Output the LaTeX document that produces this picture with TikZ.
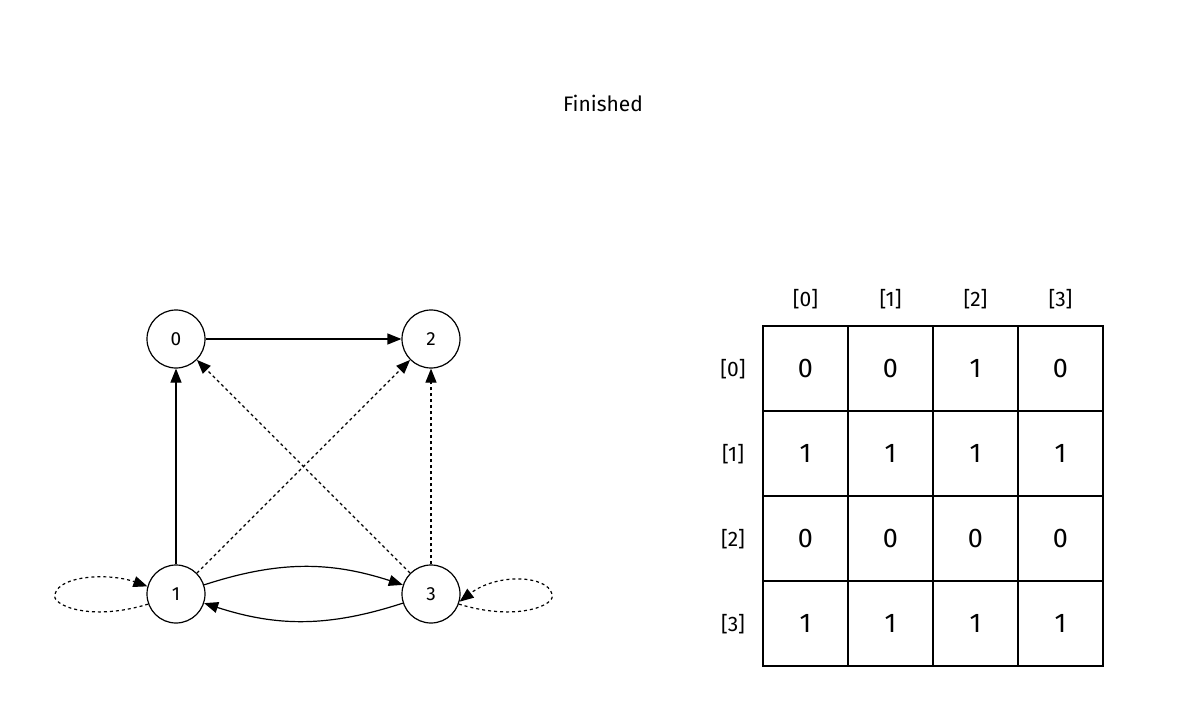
\documentclass[tikz,border=0pt]{standalone}
\usepackage{fontspec}
\setmainfont{Fira Sans}
\usetikzlibrary{arrows.meta}
\begin{document}
\begin{tikzpicture}[x=1pt,y=-1pt,
  vert/.style={circle,draw,line width=1.2pt,minimum size=58pt,inner sep=0pt,font=\fontsize{19}{19}\selectfont},
  edge/.style={line width=1.2pt,-{Triangle[length=14pt,width=11pt]}},
  cell/.style={draw,line width=2pt,minimum size=85pt,inner sep=0pt,font=\fontsize{27}{27}\selectfont},
  lab/.style={font=\fontsize{21}{21}\selectfont}]
\useasboundingbox (0,0) rectangle (1203,714);
\node[font=\fontsize{21}{21}\selectfont] (title) at (603,103) {Finished};
\node[vert] (v0) at (176,339) {0};
\node[vert] (v2) at (431,339) {2};
\node[vert] (v1) at (176,594) {1};
\node[vert] (v3) at (431,594) {3};
\draw[edge] (v0) -- (v2);
\draw[edge] (v1) -- (v0);
\draw[edge] (v1) to[bend left=18] (v3);
\draw[edge] (v3) to[bend left=18] (v1);
\draw[edge,dashed] (v1) -- (v2);
\draw[edge,dashed] (v3) -- (v0);
\draw[edge,dashed] (v3) -- (v2);
\draw[edge,dashed] (v1.200) .. controls (90,622) and (50,605) .. (55,594) .. controls (60,575) and (110,573) .. (v1.165);
\draw[edge,dashed] (v3.-20) .. controls (517,622) and (557,605) .. (552,594) .. controls (547,575) and (497,573) .. (v3.-15);
\foreach \r/\row in {0/{0,0,1,0},1/{1,1,1,1},2/{0,0,0,0},3/{1,1,1,1}}{
  \node[lab] (r\r) at (733,{369+85*\r}) {[\r]};
  \node[lab] (c\r) at ({805.5+85*\r},299) {[\r]};
  \foreach \v [count=\c from 0] in \row
    \node[cell] (m\r\c) at ({805.5+85*\c},{368.5+85*\r}) {\v};
}
\end{tikzpicture}
\end{document}
